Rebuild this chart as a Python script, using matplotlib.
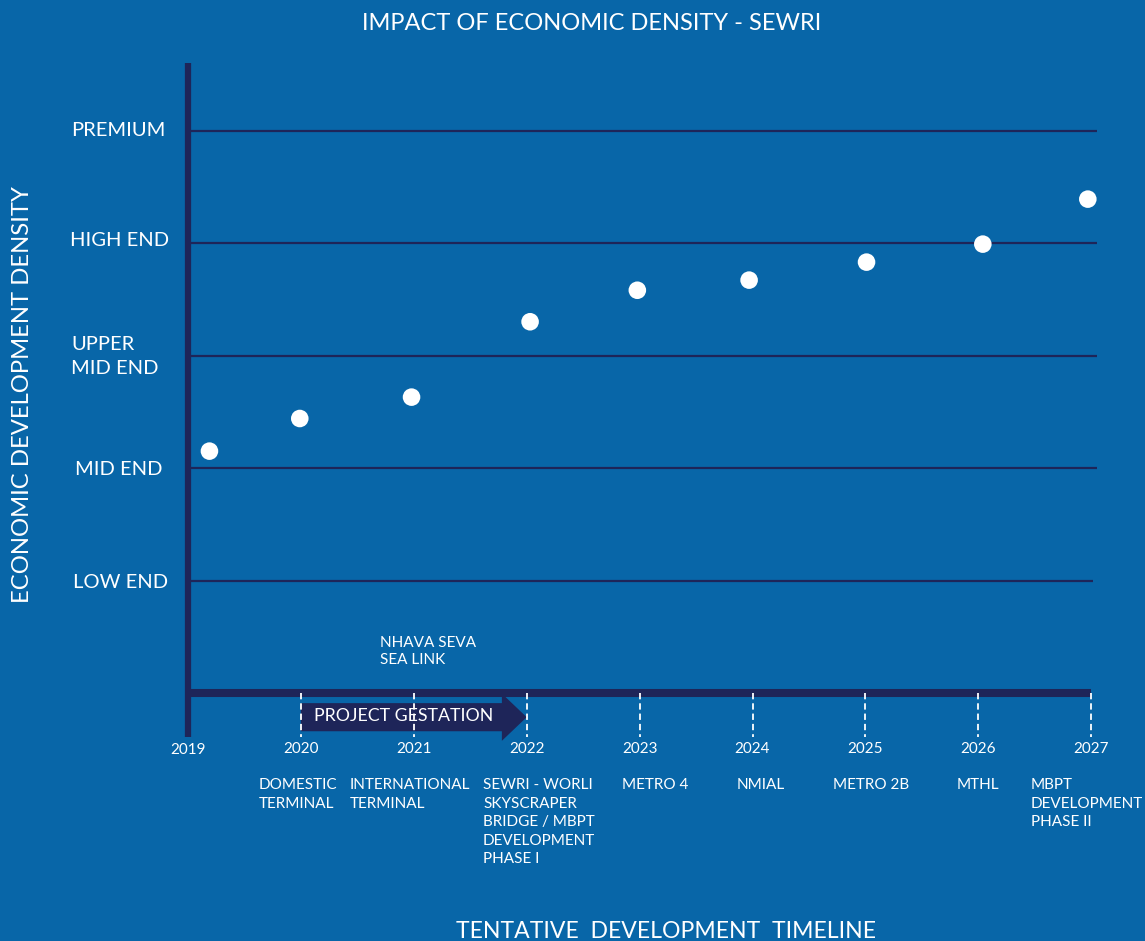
import matplotlib
matplotlib.use("Agg")
import matplotlib.pyplot as plt
from matplotlib.patches import FancyArrow
import matplotlib.transforms as mtransforms

# ---------------- data ----------------
years = [2019, 2020, 2021, 2022, 2023, 2024, 2025, 2026, 2027]
year_labels = [str(y) for y in years]
level_labels = ["LOW END", "MID END", "UPPER\nMID END", "HIGH END", "PREMIUM"]
level_values = [1, 2, 3, 4, 5]
point_years = [2019.19, 2019.99, 2020.98, 2022.03, 2022.98, 2023.97, 2025.01, 2026.04, 2026.97]
point_density = [2.15, 2.44, 2.63, 3.30, 3.58, 3.67, 3.83, 3.99, 4.39]
projects = ["", "DOMESTIC\nTERMINAL", "INTERNATIONAL\nTERMINAL",
            "SEWRI - WORLI\nSKYSCRAPER\nBRIDGE / MBPT\nDEVELOPMENT\nPHASE I",
            "METRO 4", "NMIAL", "METRO 2B", "MTHL",
            "MBPT\nDEVELOPMENT\nPHASE II"]
extra_project = "NHAVA SEVA\nSEA LINK"
gestation_label = "PROJECT GESTATION"
gestation_span = [2020, 2022]

BG = "#0866A8"
NAVY = "#1E2559"
W, H = 1145, 941
FONT = ["Lato", "DejaVu Sans"]
plt.rcParams["font.family"] = FONT

fig = plt.figure(figsize=(W / 100, H / 100), dpi=100, facecolor=BG)
ax = fig.add_axes([0, 0, 1, 1])
ax.set_facecolor(BG)
ax.axis("off")

# pixel mapping: x_px = 188 + 112.9*(yr-2019); y_px = 693 - 112.5*v
ax.set_xlim(2019 - 188 / 112.9, 2019 + (W - 188) / 112.9)
ax.set_ylim((693 - H) / 112.5, 693 / 112.5)

def fx(px):
    return px / W

def fy(py):
    return 1 - py / H

# horizontal level lines
for i, v in enumerate(level_values):
    x_end = 2027.02 if i == 0 else 2027.05
    ax.plot([2019.03, x_end], [v, v], color=NAVY, lw=1.6, solid_capstyle="butt", zorder=1)

# axes lines
ax.plot([years[0], years[0]], [5.6, -0.39], color=NAVY, lw=4.5, solid_capstyle="butt", zorder=3)
ax.plot([years[0], years[-1]], [0, 0], color=NAVY, lw=5.8, solid_capstyle="butt", zorder=3)

# dashed year ticks
for y in years[1:]:
    ax.plot([y, y], [0, -0.39], color="white", lw=1.3, dashes=(3.5, 2.2), zorder=4)

# gestation arrow
g0, g1 = gestation_span
ax.add_patch(FancyArrow(g0, -0.215, g1 - g0, 0, width=0.25, head_width=0.42,
                        head_length=0.22, length_includes_head=True,
                        color=NAVY, lw=0, zorder=2))
fig.text(fx(314), fy(716), gestation_label, color="white", fontsize=12.8,
         ha="left", va="center")

# data points
ax.scatter(point_years, point_density, s=160, color="white", zorder=5, edgecolors="none")

# y tick labels
ylab_px = {"LOW END": (73, 582), "MID END": (75, 469), "UPPER\nMID END": (71, 356),
           "HIGH END": (70, 240), "PREMIUM": (71, 131)}
for lab in level_labels:
    px, py = ylab_px[lab]
    fig.text(fx(px), fy(py), lab, color="white", fontsize=14.5, ha="left",
             va="center", linespacing=1.5)

# year labels
blend = mtransforms.blended_transform_factory(ax.transData, fig.transFigure)
for y, lab in zip(years, year_labels):
    ax.text(y, fy(749 if y != 2019 else 750), lab, transform=blend, color="white",
            fontsize=11, ha="center", va="center")

# project labels
proj_px = [0, 259, 350, 483, 622, 737, 833, 957, 1031]
for px, lab in zip(proj_px, projects):
    if lab:
        fig.text(fx(px), fy(778), lab, color="white", fontsize=11, ha="left",
                 va="top", linespacing=1.42)
fig.text(fx(380), fy(636), extra_project, color="white", fontsize=11, ha="left",
         va="top", linespacing=1.3)

# titles
fig.text(fx(592), fy(24), "IMPACT OF ECONOMIC DENSITY - SEWRI", color="white",
         fontsize=17, ha="center", va="center")
fig.text(fx(23), fy(395), "ECONOMIC DEVELOPMENT DENSITY", color="white",
         fontsize=17.2, ha="center", va="center", rotation=90)
fig.text(fx(666), fy(931), "TENTATIVE  DEVELOPMENT  TIMELINE", color="white",
         fontsize=16.6, ha="center", va="center")

fig.savefig("out.png", dpi=100, facecolor=BG)
